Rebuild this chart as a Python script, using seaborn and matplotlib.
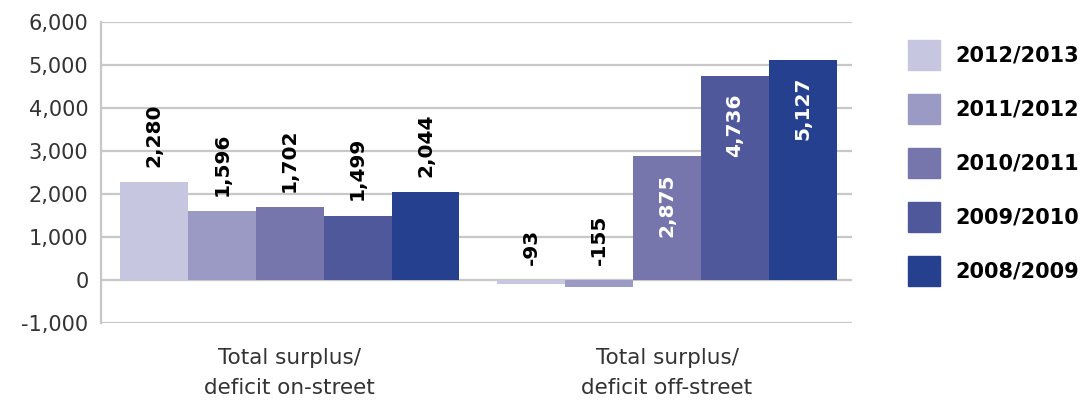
import pandas as pd
import seaborn as sns
import matplotlib.pyplot as plt

categories = ['Total surplus/\ndeficit on-street', 'Total surplus/\ndeficit off-street']
years = ['2012/2013', '2011/2012', '2010/2011', '2009/2010', '2008/2009']
onStreet = [2280, 1596, 1702, 1499, 2044]
offStreet = [-93, -155, 2875, 4736, 5127]
colors = ['#c7c6e0', '#9b9ac4', '#7676ad', '#50589c', '#25408f']

rows = []
for i, y in enumerate(years):
    rows.append({'cat': categories[0], 'year': y, 'value': onStreet[i]})
    rows.append({'cat': categories[1], 'year': y, 'value': offStreet[i]})
df = pd.DataFrame(rows)

sns.set_style('white')
plt.rcParams['font.family'] = ['DejaVu Sans']

fig = plt.figure(figsize=(10.81, 4.01), dpi=100)
ax = fig.add_axes([0.0934, 0.1945, 0.6947, 0.7506])

sns.barplot(data=df, x='cat', y='value', hue='year', order=categories,
            hue_order=years, palette=colors, width=0.9, gap=0,
            saturation=1, ax=ax, legend=False, errorbar=None, linewidth=0)

ax.set_ylim(-1000, 6000)
ax.set_xlim(-0.5, 1.49)
ax.set_yticks(range(-1000, 6001, 1000))
ax.set_yticklabels([f'{v:,}' for v in range(-1000, 6001, 1000)])
ax.yaxis.grid(True, color='#c8c8c8', linewidth=1.6)
ax.set_axisbelow(True)
for s in ['top', 'right', 'bottom']:
    ax.spines[s].set_visible(False)
ax.spines['left'].set_color('#c8c8c8')
ax.spines['left'].set_linewidth(1.6)
ax.tick_params(axis='y', length=5, width=1.6, color='#c8c8c8',
               labelsize=15, labelcolor='#333333', pad=4)
ax.tick_params(axis='x', length=0, labelsize=15.5, labelcolor='#333333', pad=18)
ax.set_xticks([0.5], minor=True)
ax.tick_params(axis='x', which='minor', length=3, width=2, color='#d0d0d0')
ax.set_xlabel('')
ax.set_ylabel('')
for t in ax.get_xticklabels():
    t.set_linespacing(1.6)

for j, cont in enumerate(ax.containers):
    for k, bar in enumerate(cont):
        v = [onStreet, offStreet][k][j]
        x = bar.get_x() + bar.get_width() / 2
        txt = f'{v:,}'
        if k == 1 and v > 1000:
            ax.annotate(txt, (x, v), xytext=(0, -12), textcoords='offset points',
                        rotation=90, ha='center', va='top', color='white',
                        fontsize=14.5, fontweight='bold')
        else:
            base = max(v, 0)
            ax.annotate(txt, (x, base), xytext=(0, 11), textcoords='offset points',
                        rotation=90, ha='center', va='bottom', color='black',
                        fontsize=14.5, fontweight='bold')

handles = [plt.Rectangle((0, 0), 1, 1, color=c) for c in colors]
leg = fig.legend(handles, years, loc='upper left', bbox_to_anchor=(0.823, 0.948),
                 frameon=False, handlelength=1.5, handleheight=1.85,
                 labelspacing=1.15, handletextpad=0.75,
                 prop={'size': 15, 'weight': 'bold'})
for t in leg.get_texts():
    t.set_color('black')

plt.savefig('out.png', dpi=100)
plt.close()
